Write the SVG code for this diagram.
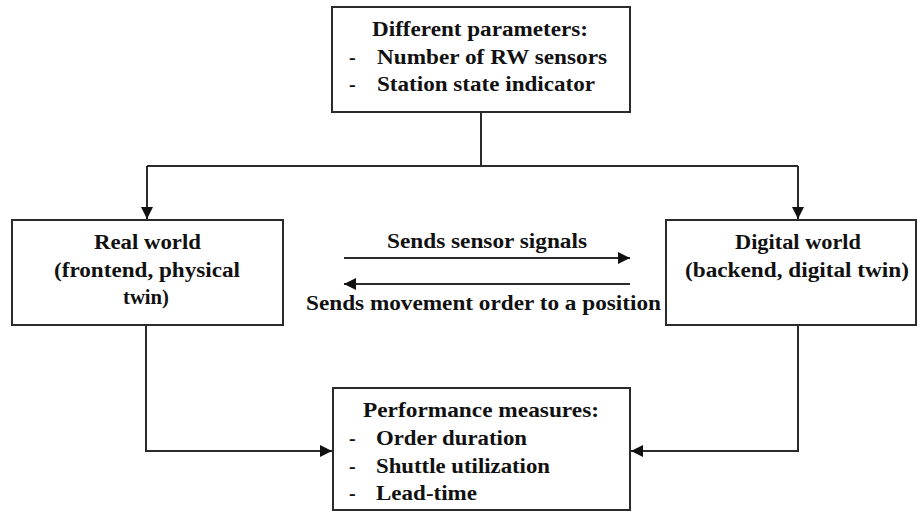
<svg xmlns="http://www.w3.org/2000/svg" width="918" height="511" viewBox="0 0 918 511">
  <style>
    .box { fill: #ffffff; stroke: #2b2b2b; stroke-width: 2; }
    .wire { fill: none; stroke: #2b2b2b; stroke-width: 2; }
    .lbl { font-family: "Liberation Serif", "Times New Roman", serif; font-weight: bold; font-size: 20px; fill: #111111; }
  </style>
  <defs>
    <marker id="arrow" viewBox="0 0 10 10" refX="10" refY="5" markerWidth="12" markerHeight="12" markerUnits="userSpaceOnUse" orient="auto">
      <path d="M0,0 L10,5 L0,10 Z" fill="#111111"/>
    </marker>
  </defs>
  <rect width="918" height="511" fill="#ffffff"/>

  <g id="connectors">
    <path class="wire" d="M481,112 V166"/>
    <path class="wire" d="M147,166 H798"/>
    <path class="wire" d="M147,166 V219" marker-end="url(#arrow)"/>
    <path class="wire" d="M798,166 V219" marker-end="url(#arrow)"/>
    <path class="wire" d="M344,258 H630" marker-end="url(#arrow)"/>
    <path class="wire" d="M630,284 H344" marker-end="url(#arrow)"/>
    <path class="wire" d="M146,325 V451 H332" marker-end="url(#arrow)"/>
    <path class="wire" d="M798,325 V451 H631" marker-end="url(#arrow)"/>
    <text class="lbl" x="387" y="248" textLength="200" lengthAdjust="spacingAndGlyphs">Sends sensor signals</text>
    <text class="lbl" x="306" y="310" textLength="355" lengthAdjust="spacingAndGlyphs">Sends movement order to a position</text>
  </g>

  <g id="parameters">
    <rect class="box" x="332" y="7" width="298" height="105"/>
    <text class="lbl" x="372" y="36" textLength="216" lengthAdjust="spacingAndGlyphs">Different parameters:</text>
    <text class="lbl" x="349" y="64">-</text>
    <text class="lbl" x="377" y="64" textLength="230" lengthAdjust="spacingAndGlyphs">Number of RW sensors</text>
    <text class="lbl" x="349" y="91">-</text>
    <text class="lbl" x="377" y="91" textLength="218" lengthAdjust="spacingAndGlyphs">Station state indicator</text>
  </g>

  <g id="real-world">
    <rect class="box" x="12" y="220" width="271" height="105"/>
    <text class="lbl" x="94" y="249" textLength="107" lengthAdjust="spacingAndGlyphs">Real world</text>
    <text class="lbl" x="54" y="277" textLength="186" lengthAdjust="spacingAndGlyphs">(frontend, physical</text>
    <text class="lbl" x="123" y="304" textLength="46" lengthAdjust="spacingAndGlyphs">twin)</text>
  </g>

  <g id="digital-world">
    <rect class="box" x="666" y="220" width="250" height="105"/>
    <text class="lbl" x="735" y="249" textLength="126" lengthAdjust="spacingAndGlyphs">Digital world</text>
    <text class="lbl" x="685" y="277" textLength="224" lengthAdjust="spacingAndGlyphs">(backend, digital twin)</text>
  </g>

  <g id="performance">
    <rect class="box" x="333" y="388" width="297" height="122"/>
    <text class="lbl" x="363" y="417" textLength="236" lengthAdjust="spacingAndGlyphs">Performance measures:</text>
    <text class="lbl" x="349" y="445">-</text>
    <text class="lbl" x="376" y="445" textLength="151" lengthAdjust="spacingAndGlyphs">Order duration</text>
    <text class="lbl" x="349" y="473">-</text>
    <text class="lbl" x="376" y="473" textLength="174" lengthAdjust="spacingAndGlyphs">Shuttle utilization</text>
    <text class="lbl" x="349" y="500">-</text>
    <text class="lbl" x="376" y="500" textLength="101" lengthAdjust="spacingAndGlyphs">Lead-time</text>
  </g>
</svg>
